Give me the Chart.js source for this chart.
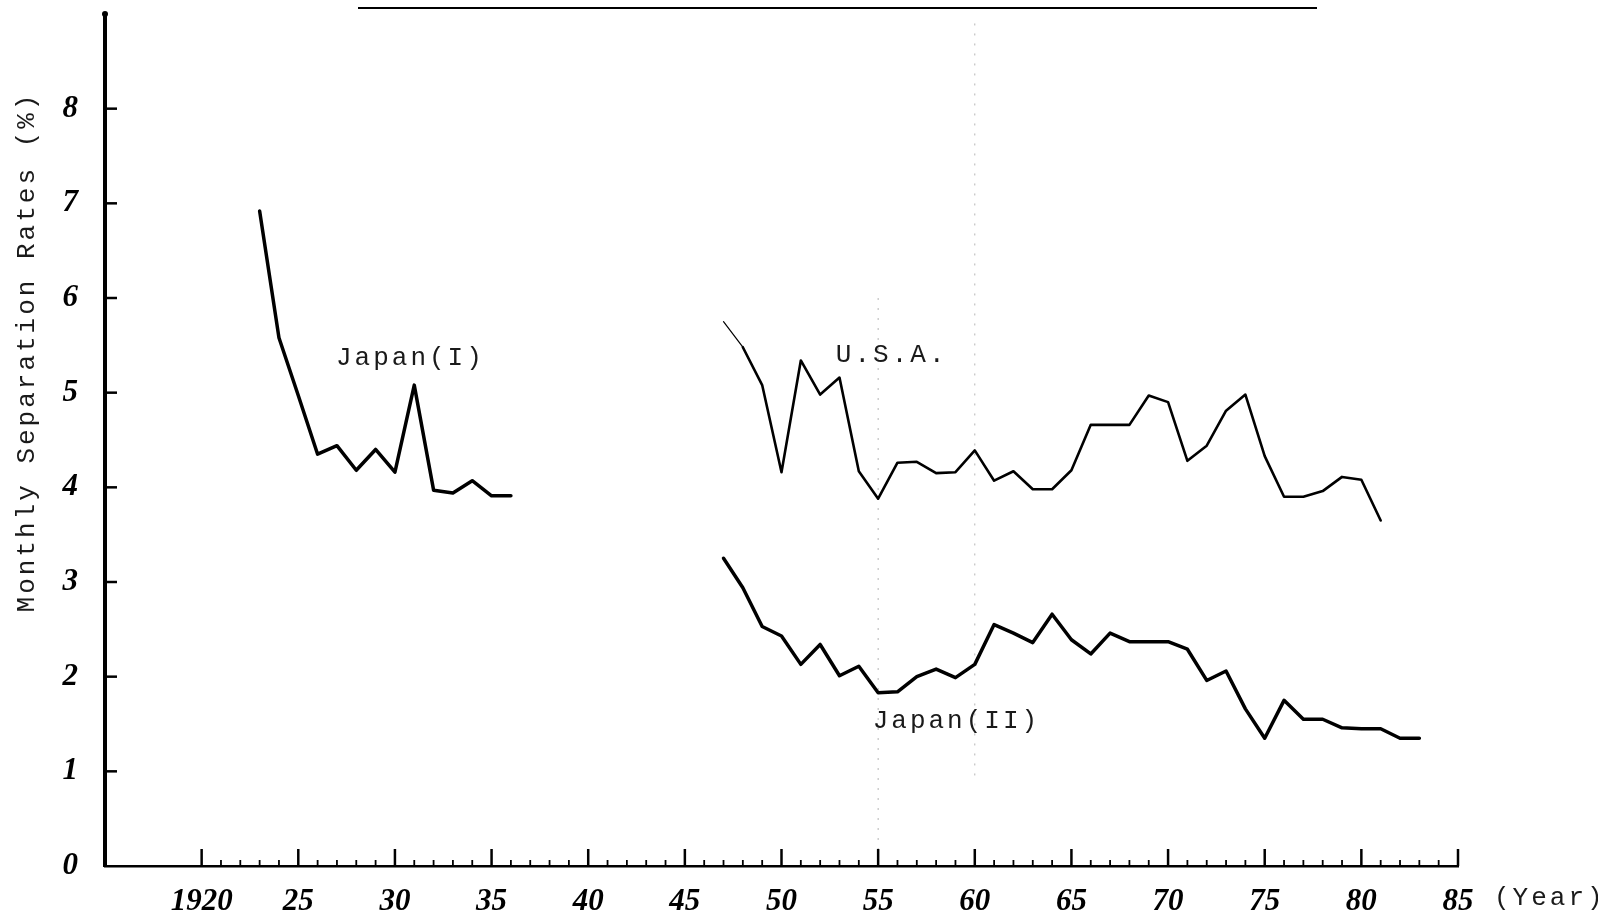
<!DOCTYPE html>
<html><head><meta charset="utf-8">
<script src="https://cdn.jsdelivr.net/npm/chart.js@4.4.1/dist/chart.umd.min.js"></script>
<style>html,body{margin:0;padding:0;background:#fff;}canvas{display:block;}</style>
</head><body>
<canvas id="c" width="1598" height="912"></canvas>
<script>
const japan1Years = [1923,1924,1925,1926,1927,1928,1929,1930,1931,1932,1933,1934,1935,1936];
const japan1Rates = [6.92,5.58,4.97,4.35,4.44,4.18,4.40,4.16,5.08,3.97,3.94,4.07,3.91,3.91];

const usaYears = [1947,1948,1949,1950,1951,1952,1953,1954,1955,1956,1957,1958,1959,1960,1961,1962,1963,1964,1965,1966,1967,1968,1969,1970,1971,1972,1973,1974,1975,1976,1977,1978,1979,1980,1981];
const usaRates = [5.75,5.48,5.08,4.16,5.34,4.98,5.16,4.17,3.88,4.26,4.27,4.15,4.16,4.39,4.07,4.17,3.98,3.98,4.18,4.66,4.66,4.66,4.97,4.90,4.28,4.44,4.81,4.98,4.33,3.90,3.90,3.96,4.11,4.08,3.65];

const japan2Years = [1947,1948,1949,1950,1951,1952,1953,1954,1955,1956,1957,1958,1959,1960,1961,1962,1963,1964,1965,1966,1967,1968,1969,1970,1971,1972,1973,1974,1975,1976,1977,1978,1979,1980,1981,1982,1983];
const japan2Rates = [3.25,2.94,2.53,2.43,2.13,2.34,2.01,2.11,1.83,1.84,2.00,2.08,1.99,2.13,2.55,2.46,2.36,2.66,2.39,2.24,2.46,2.37,2.37,2.37,2.29,1.96,2.06,1.66,1.35,1.75,1.55,1.55,1.46,1.45,1.45,1.35,1.35];

const xTickValues = [1920,1925,1930,1935,1940,1945,1950,1955,1960,1965,1970,1975,1980,1985];
const xTickLabels = ['1920','25','30','35','40','45','50','55','60','65','70','75','80','85'];
const yTickValues = [0,1,2,3,4,5,6,7,8];
const yTickLabels = ['0','1','2','3','4','5','6','7','8'];

const seriesLabels = ['Japan(I)','U.S.A.','Japan(II)'];
const yAxisTitle = 'Monthly Separation Rates (%)';
const xAxisUnit = '(Year)';

const toPoints = (xs, ys) => xs.map((v, i) => ({x: v, y: ys[i]}));

const TYPE_FONT = '26px "Liberation Mono", "DejaVu Sans Mono", monospace';

const decor = {
  id: 'decor',
  beforeDatasetsDraw(chart) {
    const {ctx, scales: {x, y}} = chart;
    ctx.save();
    ctx.strokeStyle = '#b5b5b5';
    ctx.lineWidth = 1;
    ctx.setLineDash([2, 8]);
    ctx.beginPath();
    ctx.moveTo(x.getPixelForValue(1955), y.getPixelForValue(6.0));
    ctx.lineTo(x.getPixelForValue(1955), y.getPixelForValue(0));
    ctx.moveTo(x.getPixelForValue(1960), y.getPixelForValue(8.9));
    ctx.lineTo(x.getPixelForValue(1960), y.getPixelForValue(0.9));
    ctx.stroke();
    ctx.restore();
  },
  afterDraw(chart) {
    const {ctx, scales: {x, y}, chartArea} = chart;
    ctx.save();
    ctx.strokeStyle = '#000';
    ctx.lineCap = 'butt';
    ctx.lineWidth = 2.5;
    yTickValues.forEach(v => {
      if (v === 0) return;
      const py = y.getPixelForValue(v);
      ctx.beginPath(); ctx.moveTo(chartArea.left, py); ctx.lineTo(chartArea.left + 12, py); ctx.stroke();
    });
    xTickValues.forEach(v => {
      const px = x.getPixelForValue(v);
      ctx.beginPath(); ctx.moveTo(px, chartArea.bottom); ctx.lineTo(px, chartArea.bottom - 17); ctx.stroke();
    });
    ctx.lineWidth = 1.8;
    for (let yr = xTickValues[0] + 1; yr < x.max; yr++) {
      if (xTickValues.includes(yr)) continue;
      const px = x.getPixelForValue(yr);
      ctx.beginPath(); ctx.moveTo(px, chartArea.bottom); ctx.lineTo(px, chartArea.bottom - 6); ctx.stroke();
    }
    ctx.fillStyle = '#000';
    ctx.beginPath(); ctx.arc(chartArea.left, chartArea.top, 3, 0, Math.PI * 2); ctx.fill();
    ctx.lineWidth = 2;
    ctx.beginPath(); ctx.moveTo(358, 8); ctx.lineTo(1317, 8); ctx.stroke();

    ctx.fillStyle = '#1a1a1a';
    ctx.font = TYPE_FONT;
    if ('letterSpacing' in ctx) ctx.letterSpacing = '3px';
    ctx.textBaseline = 'middle';
    ctx.textAlign = 'center';
    const anchors = [[1930.8, 5.37], [1955.7, 5.40], [1959.05, 1.53]];
    seriesLabels.forEach((t, i) => {
      ctx.fillText(t, x.getPixelForValue(anchors[i][0]), y.getPixelForValue(anchors[i][1]));
    });
    ctx.textAlign = 'left';
    ctx.fillText(xAxisUnit, x.right + 36, chartArea.bottom + 32);
    ctx.save();
    ctx.translate(27, 352);
    ctx.rotate(-Math.PI / 2);
    ctx.textAlign = 'center';
    ctx.fillText(yAxisTitle, 0, 0);
    ctx.restore();
    ctx.restore();
  }
};

const tickFont = {family: '"Liberation Serif", "DejaVu Serif", serif', size: 31, style: 'italic', weight: 'bold'};

new Chart(document.getElementById('c'), {
  type: 'line',
  data: {
    datasets: [
      {label: seriesLabels[0], data: toPoints(japan1Years, japan1Rates), borderColor: '#000', borderWidth: 3.5, pointRadius: 0, tension: 0, borderJoinStyle: 'round', borderCapStyle: 'round', fill: false},
      {label: seriesLabels[1], data: toPoints(usaYears, usaRates), borderColor: '#000', borderWidth: 2.6, pointRadius: 0, tension: 0, borderJoinStyle: 'round', borderCapStyle: 'round', fill: false,
        segment: {borderWidth: c => c.p0DataIndex === 0 ? 1.2 : 2.6}},
      {label: seriesLabels[2], data: toPoints(japan2Years, japan2Rates), borderColor: '#000', borderWidth: 3.5, pointRadius: 0, tension: 0, borderJoinStyle: 'round', borderCapStyle: 'round', fill: false}
    ]
  },
  options: {
    responsive: false,
    animation: false,
    devicePixelRatio: 1,
    layout: {padding: {left: 0, right: 140, top: 14, bottom: 0}},
    plugins: {legend: {display: false}, tooltip: {enabled: false}, title: {display: false}},
    scales: {
      x: {
        type: 'linear', min: 1915, max: 1985,
        grid: {display: false},
        border: {display: true, color: '#000', width: 2.5},
        afterBuildTicks: s => { s.ticks = xTickValues.map(v => ({value: v})); },
        afterFit: s => { s.height = 46; s.paddingLeft = 0; s.paddingRight = 0; },
        ticks: {
          padding: 9, maxRotation: 0, autoSkip: false, color: '#000', font: tickFont,
          callback: v => { const i = xTickValues.indexOf(v); return i >= 0 ? xTickLabels[i] : ''; }
        }
      },
      y: {
        type: 'linear', min: 0, max: 9,
        grid: {display: false},
        border: {display: true, color: '#000', width: 4},
        afterBuildTicks: s => { s.ticks = yTickValues.map(v => ({value: v})); },
        afterFit: s => { s.width = 105; s.paddingTop = 0; s.paddingBottom = 0; },
        ticks: {
          padding: 19, color: '#000', font: tickFont,
          callback: v => { const i = yTickValues.indexOf(v); return i >= 0 ? yTickLabels[i] : ''; }
        }
      }
    }
  },
  plugins: [decor]
});
</script>
</body></html>
